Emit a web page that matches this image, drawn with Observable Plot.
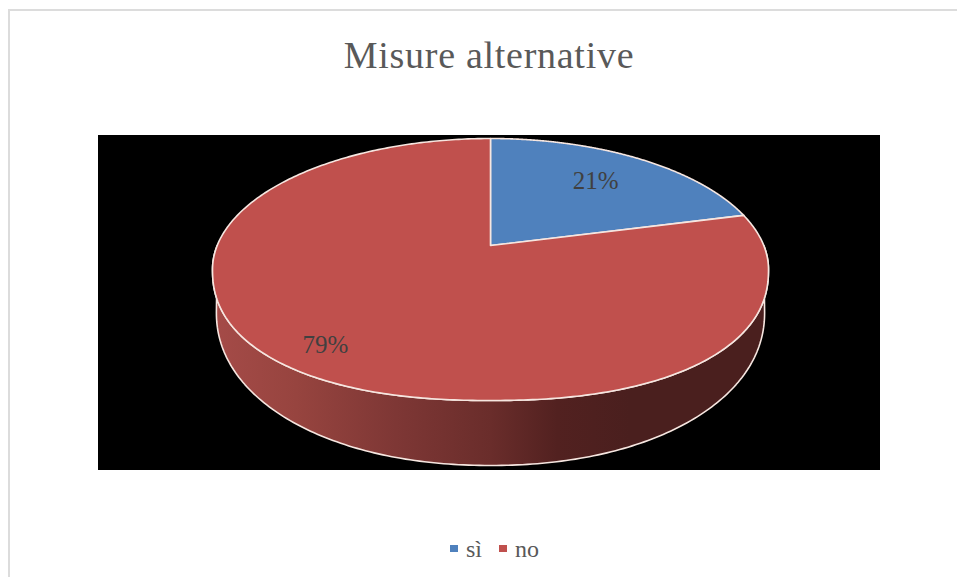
<!DOCTYPE html>
<html>
<head>
<meta charset="utf-8">
<script src="https://cdn.jsdelivr.net/npm/d3@7"></script>
<script src="https://cdn.jsdelivr.net/npm/@observablehq/plot@0.6"></script>
<style>
  html, body { margin: 0; padding: 0; background: #fff; width: 957px; height: 577px; overflow: hidden; }
  body { position: relative; font-family: "Liberation Serif", serif; }
  #frame { position: absolute; left: 8px; top: 9px; width: 960px; height: 600px; border: 2.5px solid #dcdcdc; box-sizing: border-box; }
  #title { position: absolute; left: 0; width: 978px; top: 33px; text-align: center; font-size: 38px; letter-spacing: 0.72px; line-height: 44px; color: #595959; }
  #chart { position: absolute; left: 98px; top: 135px; }
  #chart svg { display: block; }
  #legend { position: absolute; top: 535px; left: 450px; height: 28px; color: #595959; font-size: 24px; line-height: 28px; white-space: nowrap; }
  #legend span.sw { position: absolute; top: 10px; width: 8px; height: 7px; }
  #legend span.lb { position: absolute; top: 0; }
</style>
</head>
<body>
<div id="frame"></div>
<div id="title">Misure alternative</div>
<div id="chart"></div>
<div id="legend"></div>
<script>
const categories = ["sì", "no"];
const shares = [21, 79];
const shareLabels = ["21%", "79%"];
const sliceColors = ["#4F81BD", "#C0504D"];

const tilt = 0.183;
const lowerPower = 2.25;

function rimPoint(deg) {
  const t = deg * Math.PI / 180;
  const u = Math.sin(t), v = -Math.cos(t);
  const den = 1 - tilt * v;
  const X = Math.sqrt(1 - tilt * tilt) * u / den;
  let Y = (v - tilt) / den;
  if (Y > 0) Y = Math.pow(Math.max(0, 1 - Math.pow(Math.abs(X), lowerPower)), 1 / lowerPower);
  return {X, Y};
}

const slices = [];
let start = 0;
categories.forEach((name, i) => {
  const end = start + shares[i] * 3.6;
  slices.push({name, X: 0, Y: -tilt});
  for (let a = start; a <= end + 1e-6; a += (end - start) / 360) slices.push({name, ...rimPoint(a)});
  start = end;
});

const side = [];
for (let a = 90; a <= 270; a += 0.5) side.push(rimPoint(a));
for (let a = 180; a >= 0; a -= 1) {
  const c = Math.cos(a * Math.PI / 180), s = Math.sin(a * Math.PI / 180);
  const p = 2.1;
  const nx = Math.sign(c) * Math.pow(Math.abs(c), 2 / p);
  const ny = Math.pow(s, 2 / p);
  side.push({X: 0.986 * nx, Y: 0.328 + 1.168 * ny});
}

const labelAnchors = [
  {text: shareLabels[0], X: 0.378, Y: -0.672},
  {text: shareLabels[1], X: -0.594, Y: 0.58}
];

const chart = Plot.plot({
  width: 782,
  height: 335,
  marginTop: 0, marginRight: 0, marginBottom: 0, marginLeft: 0,
  style: {background: "#000", overflow: "hidden"},
  x: {domain: [-1, 1], range: [114, 670], axis: null},
  y: {domain: [-1, 1], range: [3, 265], axis: null},
  color: {domain: categories, range: sliceColors},
  marks: [
    Plot.line(side, {x: "X", y: "Y", curve: "linear-closed", fill: "url(#sideShade)", stroke: "#f6e6e0", strokeWidth: 1.6}),
    Plot.line(slices, {x: "X", y: "Y", z: "name", curve: "linear-closed", fill: "name", stroke: "#f6e6e0", strokeWidth: 1.6}),
    Plot.text(labelAnchors, {x: "X", y: "Y", text: "text", fill: "#404040", fontSize: 25, fontFamily: "Liberation Serif"})
  ]
});

const ns = "http://www.w3.org/2000/svg";
const defs = document.createElementNS(ns, "defs");
const grad = document.createElementNS(ns, "linearGradient");
grad.setAttribute("id", "sideShade");
[[0, "#A54B48"], [0.15, "#97443F"], [0.33, "#7E3735"], [0.5, "#6A2D2B"], [0.62, "#522120"], [0.75, "#4A1F1E"], [1, "#4A1F1E"]]
  .forEach(([o, col]) => {
    const st = document.createElementNS(ns, "stop");
    st.setAttribute("offset", o);
    st.setAttribute("stop-color", col);
    grad.appendChild(st);
  });
defs.appendChild(grad);
chart.insertBefore(defs, chart.firstChild);
document.getElementById("chart").appendChild(chart);

const legend = document.getElementById("legend");
[[0, 16], [49, 65]].forEach(([sw, lb], i) => {
  const s = document.createElement("span");
  s.className = "sw"; s.style.left = sw + "px"; s.style.background = sliceColors[i];
  legend.appendChild(s);
  const t = document.createElement("span");
  t.className = "lb"; t.style.left = lb + "px"; t.textContent = categories[i];
  legend.appendChild(t);
});
</script>
</body>
</html>
